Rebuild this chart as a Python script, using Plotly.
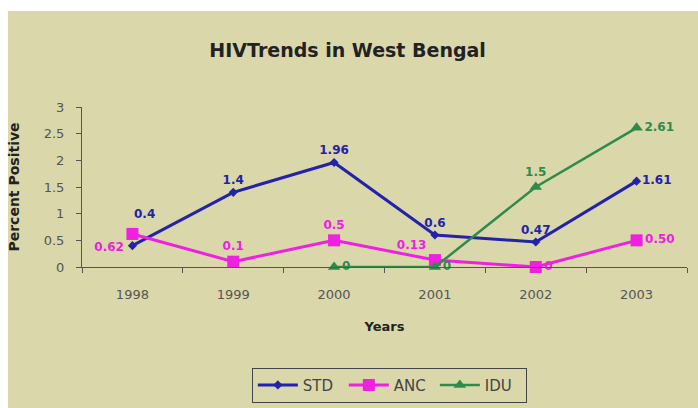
import plotly.graph_objects as go

years = ['1998', '1999', '2000', '2001', '2002', '2003']
std = [0.4, 1.4, 1.96, 0.6, 0.47, 1.61]
anc = [0.62, 0.1, 0.5, 0.13, 0, 0.50]
idu = [None, None, 0, 0, 1.5, 2.61]

std_text = ['0.4', '1.4', '1.96', '0.6', '0.47', '1.61']
anc_text = ['0.62', '0.1', '0.5', '0.13', '0', '0.50']
idu_text = ['', '', '0', '0', '1.5', '2.61']

# first STD label sits higher (drawn as annotation so it clears the ANC square)
std_pos = ['top center', 'top center', 'top center', 'top center', 'top center', 'middle right']
anc_pos = ['bottom left', 'top center', 'top center', 'top left', 'middle right', 'middle right']
idu_pos = ['middle right', 'middle right', 'middle right', 'middle right', 'top center', 'middle right']

BG = '#DAD7AB'
BLUE = '#2222AA'
PINK = '#F020E0'
GREEN = '#2E8B4A'
FONT = 'DejaVu Sans'


def bold(labels):
    return ['<b>%s</b>' % t if t else '' for t in labels]


std_lbl = bold(std_text)
std_lbl[0] = ''

fig = go.Figure()

fig.add_trace(go.Scatter(
    x=years, y=std, name='STD', mode='lines+markers+text',
    line=dict(color=BLUE, width=3),
    marker=dict(symbol='diamond', size=7, color=BLUE),
    text=std_lbl, textposition=std_pos,
    textfont=dict(color=BLUE, size=12, family=FONT),
    cliponaxis=False
))
fig.add_trace(go.Scatter(
    x=years, y=anc, name='ANC', mode='lines+markers+text',
    line=dict(color=PINK, width=3),
    marker=dict(symbol='square', size=12, color=PINK),
    text=bold(anc_text), textposition=anc_pos,
    textfont=dict(color=PINK, size=12, family=FONT),
    cliponaxis=False
))
fig.add_trace(go.Scatter(
    x=years, y=idu, name='IDU', mode='lines+markers+text',
    line=dict(color=GREEN, width=2.5),
    marker=dict(symbol='triangle-up', size=11, color=GREEN),
    text=bold(idu_text), textposition=idu_pos,
    textfont=dict(color=GREEN, size=12, family=FONT),
    cliponaxis=False
))

fig.add_annotation(x=years.index('1998'), y=std[0], text='<b>%s</b>' % std_text[0],
                   showarrow=False, xshift=12, yshift=32,
                   font=dict(color=BLUE, size=12, family=FONT))

# tan panel behind the whole chart, leaving a thin white strip top and left
fig.add_shape(type='rect', xref='paper', yref='paper',
              x0=-0.1223, x1=1.05, y0=-1.0, y1=1.6,
              fillcolor=BG, line=dict(width=0), layer='below')

fig.update_layout(
    width=698, height=408,
    margin=dict(l=82, r=11, t=107, b=141),
    paper_bgcolor='white',
    plot_bgcolor='rgba(0,0,0,0)',
    font=dict(family=FONT, color='#333333', size=12),
    title=dict(text='<b>HIVTrends in West Bengal</b>', x=0.498, xanchor='center',
               y=0.877, yanchor='middle',
               font=dict(size=19, color='#222222', family=FONT)),
    legend=dict(orientation='h', x=0.508, xanchor='center',
                yref='container', y=0.056, yanchor='middle',
                bgcolor=BG, bordercolor='#444444', borderwidth=1,
                traceorder='normal', font=dict(size=15, color='#444444'),
                itemwidth=40, entrywidth=36),
    showlegend=True,
    xaxis=dict(
        type='category', range=[-0.5, 5.5],
        showline=True, linecolor='#555555', linewidth=1,
        ticks='outside', tickson='boundaries', ticklen=5, tickcolor='#555555',
        showgrid=False, zeroline=False, ticklabelstandoff=15,
        tickfont=dict(size=13, color='#555555'),
        title=dict(text='<b>Years</b>', standoff=21, font=dict(size=13, color='#222222'))
    ),
    yaxis=dict(
        range=[0, 3], dtick=0.5,
        showline=True, linecolor='#555555', linewidth=1,
        ticks='outside', ticklen=5, tickcolor='#555555',
        showgrid=False, zeroline=False, ticklabelstandoff=9,
        tickfont=dict(size=13, color='#555555'),
        title=dict(text='<b>Percent Positive</b>', standoff=20, font=dict(size=14, color='#222222'))
    )
)

fig.write_html('out.html', config={'displayModeBar': False},
               post_script="document.body.style.margin='0px';document.body.style.overflow='hidden';"
                           "document.documentElement.style.background='" + BG + "';")
